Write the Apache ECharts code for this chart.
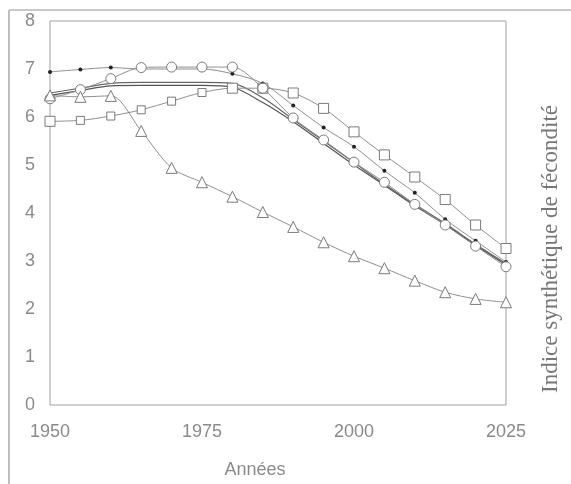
<!DOCTYPE html>
<html>
<head>
<meta charset="utf-8">
<script src="https://cdn.jsdelivr.net/npm/echarts@6/dist/echarts.min.js"></script>
<style>
html,body{margin:0;padding:0;background:#fff;}
#c{width:571px;height:484px;}
</style>
</head>
<body>
<div id="c"></div>
<script>
const years = [1950,1955,1960,1965,1970,1975,1980,1985,1990,1995,2000,2005,2010,2015,2020,2025];
const triangles = [6.45,6.42,6.44,5.71,4.94,4.64,4.34,4.02,3.71,3.39,3.10,2.85,2.59,2.35,2.21,2.14];
const squares   = [5.91,5.93,6.02,6.15,6.33,6.51,6.60,6.60,6.50,6.18,5.69,5.21,4.75,4.28,3.75,3.26];
const circles   = [6.38,6.57,6.80,7.03,7.04,7.04,7.04,6.60,5.98,5.52,5.06,4.64,4.18,3.75,3.31,2.88];
const dots      = [6.94,6.99,7.03,7.00,7.00,7.00,6.90,6.70,6.24,5.78,5.38,4.88,4.42,3.87,3.42,2.98];
const plainA    = [6.50,6.60,6.70,6.72,6.72,6.72,6.70,6.40,5.95,5.50,5.05,4.60,4.18,3.78,3.35,2.95];
const plainB    = [6.45,6.55,6.65,6.66,6.66,6.66,6.62,6.30,5.90,5.45,5.00,4.58,4.15,3.76,3.33,2.92];
const xTicks = [1950,1975,2000,2025];
const yTicks = [0,1,2,3,4,5,6,7,8];
const xTitle = 'Années';
const yTitle = 'Indice synthétique de fécondité';

function pairs(vals){ return years.map((y,i)=>[y, vals[i]]); }

const chart = echarts.init(document.getElementById('c'), null, {renderer:'canvas'});
const markerStyle = {color:'#fff', borderColor:'#7a7a7a', borderWidth:1};
const lineGrey = {color:'#8f8f8f', width:1};
chart.setOption({
  animation:false,
  backgroundColor:'#fff',
  grid:{left:50, right:65, top:21, bottom:79, show:true, borderColor:'#a0a0a0', borderWidth:1},
  xAxis:{type:'value', min:1950, max:2025, interval:25,
    axisLine:{show:false}, axisTick:{show:false}, splitLine:{show:false},
    axisLabel:{color:'#8a8a8a', fontSize:18, fontFamily:'Liberation Sans, Arial', margin:18,
      formatter:v=> xTicks.includes(v) ? String(v) : ''}},
  yAxis:{type:'value', min:0, max:8, interval:1,
    axisLine:{show:false}, axisTick:{show:false}, splitLine:{show:false},
    axisLabel:{color:'#8a8a8a', fontSize:18, fontFamily:'Liberation Sans, Arial', margin:15,
      formatter:v=> yTicks.includes(v) ? String(v) : ''}},
  graphic:[
    {type:'line', shape:{x1:9, y1:10, x2:9, y2:484}, style:{stroke:'#bdbdbd', lineWidth:2}},
    {type:'line', shape:{x1:9, y1:10, x2:571, y2:10}, style:{stroke:'#c8c8c8', lineWidth:2}},
    {type:'text', x:255, y:470, style:{text:xTitle, fill:'#8a8a8a', font:'18px "Liberation Sans", Arial', textAlign:'center', textVerticalAlign:'middle'}},
    {type:'text', x:551, y:249, rotation:Math.PI/2, style:{text:yTitle, fill:'#777', font:'23px "Liberation Serif", "Times New Roman", serif', textAlign:'center', textVerticalAlign:'middle'}}
  ],
  series:[
    {type:'line', data:pairs(plainB), smooth:0.3, symbol:'none', lineStyle:{color:'#555', width:1.2}, z:2},
    {type:'line', data:pairs(plainA), smooth:0.3, symbol:'none', lineStyle:{color:'#666', width:1.2}, z:2},
    {type:'line', data:pairs(dots), smooth:0.3, symbol:'circle', symbolSize:4, itemStyle:{color:'#222'}, lineStyle:lineGrey, z:3},
    {type:'line', data:pairs(squares), smooth:0.3, symbol:'rect',
      symbolSize:(v,p)=> (p.dataIndex>=1 && p.dataIndex<=5) ? 8 : 10,
      itemStyle:markerStyle, lineStyle:lineGrey, z:4},
    {type:'line', data:pairs(circles), smooth:0.3, symbol:'circle', symbolSize:10, itemStyle:markerStyle, lineStyle:lineGrey, z:5},
    {type:'line', data:pairs(triangles), smooth:0.3, symbol:'triangle', symbolSize:11, itemStyle:markerStyle, lineStyle:lineGrey, z:6}
  ]
});
</script>
</body>
</html>
